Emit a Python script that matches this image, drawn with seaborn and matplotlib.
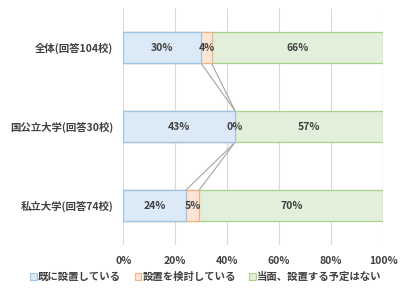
import matplotlib
matplotlib.use("Agg")
import matplotlib.pyplot as plt
from matplotlib.patches import Patch
import seaborn as sns
import pandas as pd
import numpy as np

categories = ["全体(回答104校)", "国公立大学(回答30校)", "私立大学(回答74校)"]
series_names = ["既に設置している", "設置を検討している", "当面、設置する予定はない"]
installed = [30, 43, 24]
considering = [4, 0, 5]
no_plan = [66, 57, 70]
x_ticks = [0, 20, 40, 60, 80, 100]
x_tick_labels = ["0%", "20%", "40%", "60%", "80%", "100%"]

face_colors = ["#dce9f7", "#fce4d6", "#e2efda"]
edge_colors = ["#9dc3e6", "#f4b183", "#a9d18e"]

sns.set_style("white")
plt.rcParams["font.family"] = ["Noto Sans CJK JP", "DejaVu Sans"]

vals = np.array([installed, considering, no_plan], dtype=float)
shares = vals / vals.sum(axis=0) * 100  # 100% stacked
cum = np.cumsum(shares, axis=0)

fig = plt.figure(figsize=(4, 3), dpi=100)
ax = fig.add_axes([0.308, 0.183, 0.650, 0.790])

bw = 0.4
for k in [2, 1, 0]:
    df = pd.DataFrame({"cat": categories, "val": cum[k]})
    sns.barplot(data=df, x="val", y="cat", orient="h", ax=ax, width=bw,
                color=face_colors[k], edgecolor=edge_colors[k], linewidth=0.9,
                saturation=1, zorder=3)

# series lines
for k in range(3):
    for i in range(len(categories) - 1):
        ax.plot([cum[k][i], cum[k][i + 1]], [i + bw / 2, i + 1 - bw / 2],
                color="#a6a6a6", lw=0.8, zorder=2)

fs = 7.5
# value labels
for i in range(len(categories)):
    for k in range(3):
        mid = cum[k][i] - shares[k][i] / 2
        ax.text(mid, i, f"{int(vals[k][i])}%", ha="center", va="center",
                fontsize=fs, fontweight="bold", color="#404040", zorder=5)

ax.set_xlim(0, 100)
ax.set_ylim(2.5, -0.5)
ax.set_xticks(x_ticks)
ax.set_xticklabels(x_tick_labels)
ax.set_xlabel("")
ax.set_ylabel("")
ax.grid(axis="x", color="#d9d9d9", lw=0.8, zorder=0)
ax.set_axisbelow(True)
for s in ax.spines.values():
    s.set_visible(False)
ax.tick_params(axis="both", length=0, labelsize=fs, labelcolor="#404040")
ax.tick_params(axis="y", pad=7)
ax.tick_params(axis="x", pad=8)
for lbl in ax.get_xticklabels() + ax.get_yticklabels():
    lbl.set_fontweight("bold")

handles = [Patch(facecolor=face_colors[k], edgecolor=edge_colors[k], lw=0.8)
           for k in range(3)]
leg = fig.legend(handles, series_names, loc="center", bbox_to_anchor=(0.515, 0.077),
                 ncol=3, frameon=False, fontsize=fs, handlelength=0.6,
                 handleheight=0.6, handletextpad=0.15, columnspacing=1.3)
for t in leg.get_texts():
    t.set_color("#404040")
    t.set_fontweight("bold")

fig.savefig("out.png", dpi=100)
